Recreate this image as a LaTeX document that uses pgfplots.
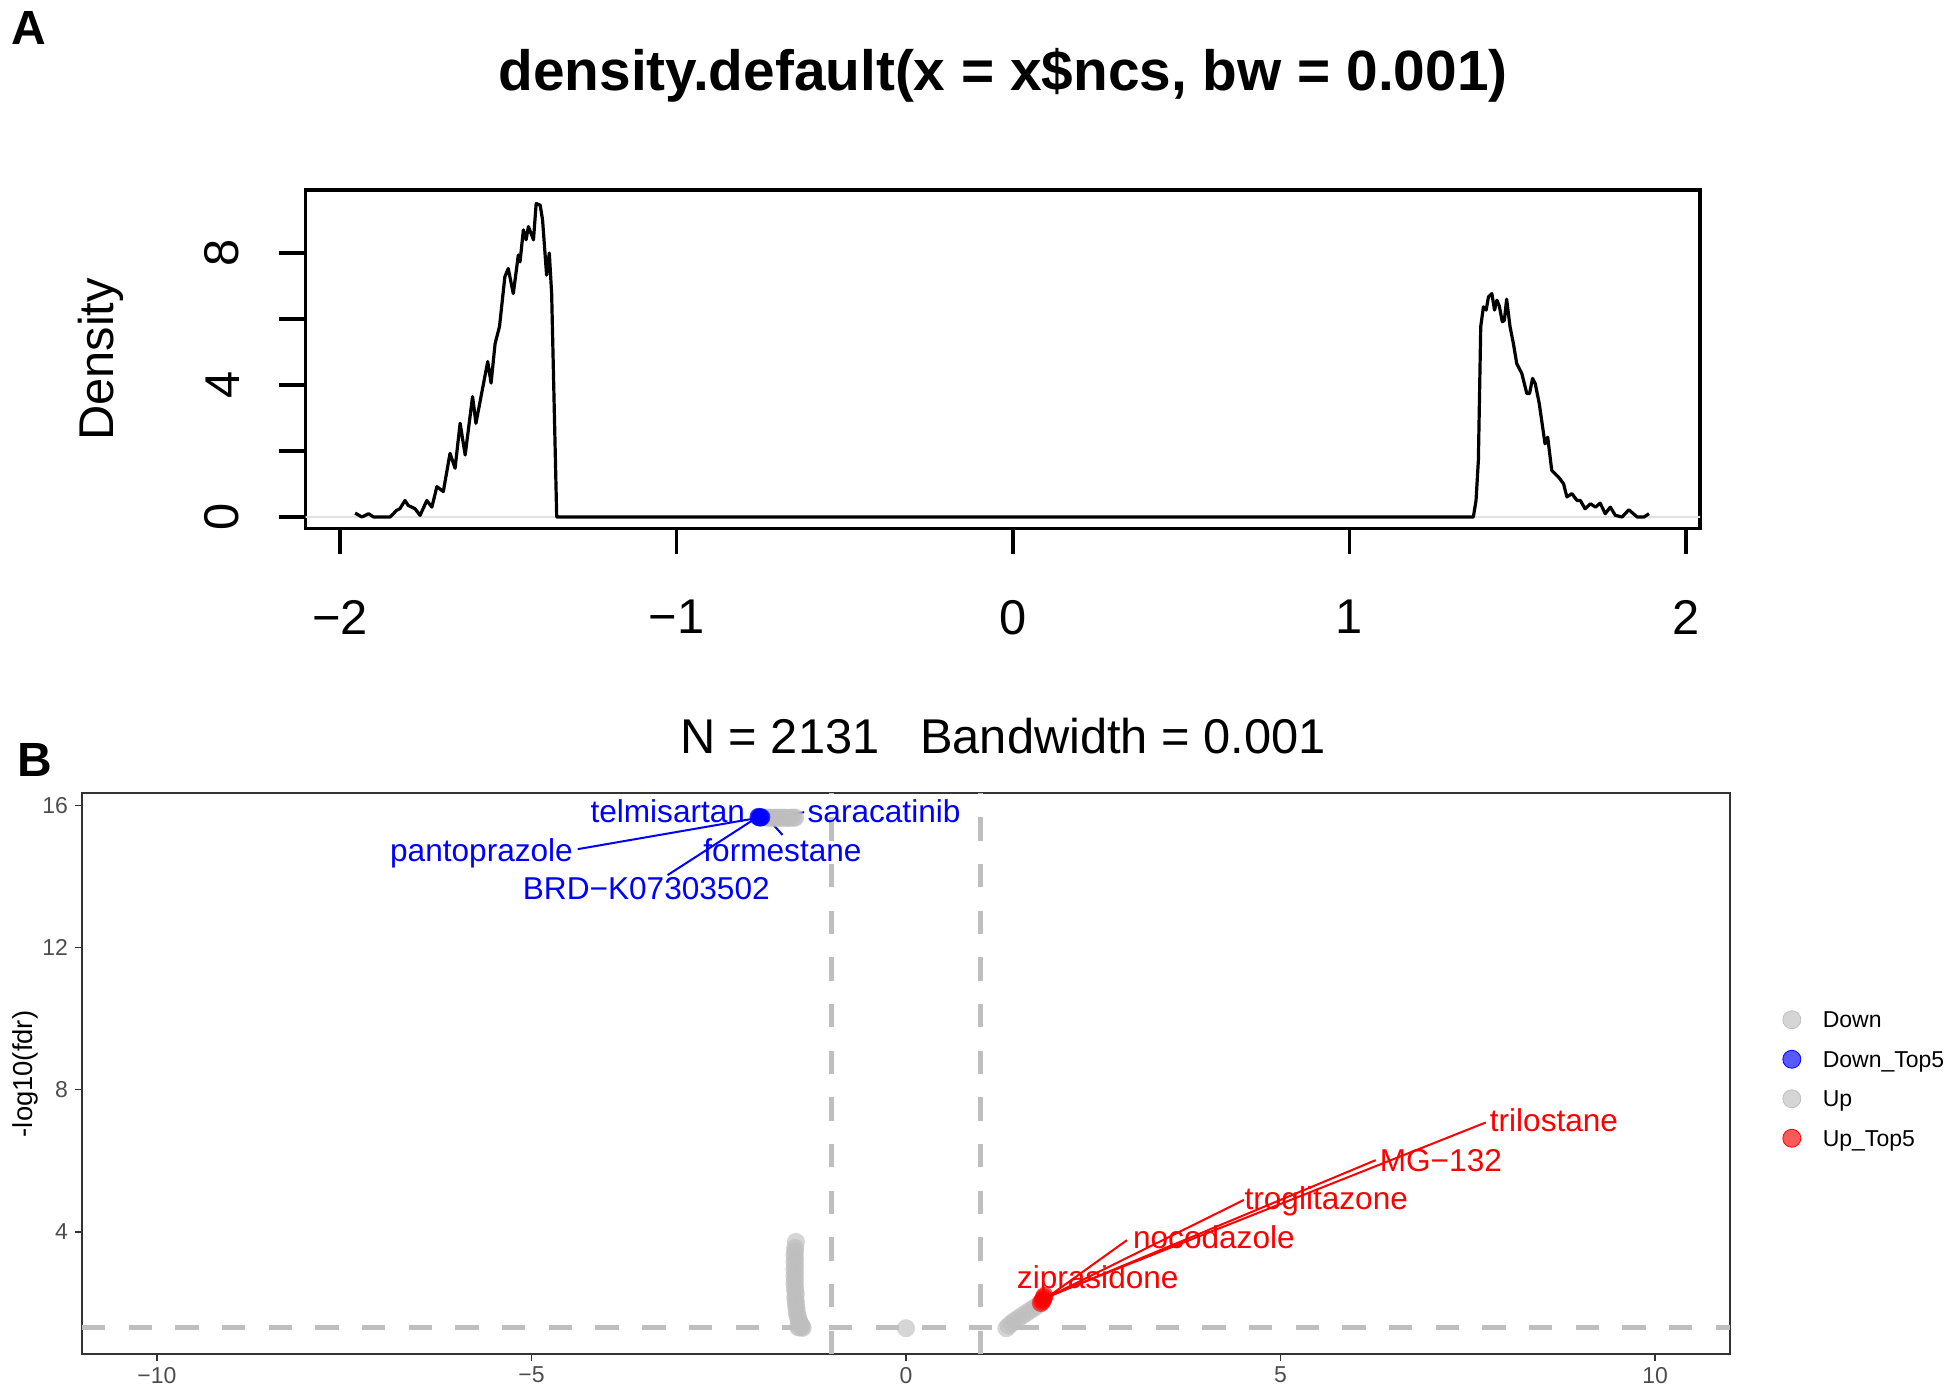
\documentclass[border=0pt]{standalone}
\usepackage{fontspec}
\setmainfont{Liberation Sans}
\usepackage{pgfplots}
\pgfplotsset{compat=1.18}
\definecolor{ggray}{RGB}{190,190,190}
\definecolor{gray20}{RGB}{51,51,51}
\definecolor{gray30}{RGB}{77,77,77}
\definecolor{zline}{RGB}{225,225,225}
\definecolor{rblue}{RGB}{0,0,255}
\definecolor{rred}{RGB}{255,0,0}

\pgfplotsset{
  dot/.style={only marks, mark=*, mark size=4.5pt, forget plot, draw=none,
    mark options={line width=0pt, draw opacity=0, fill=#1, fill opacity=0.65}},
  seg/.style={#1, line width=1pt, forget plot},
}

\begin{document}
\begin{tikzpicture}
\path (0pt,0pt) rectangle (977.5pt,-697.5pt);

% ---- panel A: density
\begin{axis}[
  scale only axis, width=697.25pt, height=169.25pt,
  at={(152.75pt,-264.25pt)}, anchor=south west,
  xmin=-2.1025, xmax=2.0416, ymin=-0.348, ymax=9.909,
  axis line style={line width=1.6pt},
  tick align=outside, xtick pos=left, ytick pos=left,
  major tick length=13pt, tick style={black, line width=1.6pt},
  xtick={-2,-1,0,1,2}, xticklabels={−2,−1,0,1,2},
  ytick={0,2,4,6,8}, yticklabels={0,,4,,8},
  ticklabel style={font=\fontsize{24.4}{28}\selectfont, inner sep=0pt},
  xticklabel style={anchor=north},
  yticklabel style={rotate=90, anchor=south},
  xticklabel shift=22.75pt, yticklabel shift=20pt,
]
\addplot[zline, line width=0.6pt, forget plot] coordinates {(-2.2,0) (2.1,0)};
\addplot[black, line width=1.6pt, line join=round, forget plot] coordinates {
(-1.955,0.12) (-1.935,0.0) (-1.915,0.1) (-1.90,0) (-1.851,0) (-1.832,0.2)
(-1.822,0.25) (-1.807,0.5) (-1.797,0.35) (-1.777,0.25) (-1.762,0.05)
(-1.742,0.5) (-1.727,0.3) (-1.712,0.92) (-1.693,0.77) (-1.673,1.93)
(-1.658,1.48) (-1.643,2.84) (-1.628,1.88) (-1.606,3.65) (-1.596,2.84)
(-1.579,3.75) (-1.561,4.71) (-1.551,4.06) (-1.539,5.26) (-1.526,5.77)
(-1.510,7.28) (-1.500,7.53) (-1.485,6.77) (-1.470,7.94) (-1.465,7.73)
(-1.455,8.7) (-1.447,8.4) (-1.440,8.8) (-1.425,8.4) (-1.417,9.5)
(-1.405,9.45) (-1.398,9.0) (-1.386,7.33) (-1.378,8.0) (-1.371,6.77)
(-1.356,0)
(1.368,0) (1.376,0.5) (1.383,1.72) (1.390,5.77) (1.398,6.37) (1.406,6.27)
(1.413,6.67) (1.423,6.77) (1.431,6.27) (1.438,6.57) (1.445,6.4) (1.454,5.92)
(1.460,5.95) (1.467,6.6) (1.477,5.77) (1.487,5.26) (1.497,4.65) (1.512,4.35)
(1.527,3.74) (1.535,3.74) (1.544,4.2) (1.552,4.04) (1.564,3.43) (1.581,2.22)
(1.589,2.42) (1.601,1.41) (1.621,1.21) (1.636,1.01) (1.646,0.61) (1.661,0.71)
(1.676,0.5) (1.686,0.5) (1.70,0.25) (1.716,0.4) (1.731,0.3) (1.745,0.42)
(1.760,0.1) (1.775,0.3) (1.790,0.05) (1.81,0) (1.83,0.22) (1.855,0)
(1.875,0) (1.890,0.1)
};
\end{axis}

% ---- panel B: volcano
\begin{axis}[
  scale only axis, width=824pt, height=280.5pt,
  at={(41pt,-677pt)}, anchor=south west,
  xmin=-11, xmax=11, ymin=0.565, ymax=16.35,
  axis line style={draw=gray20, line width=0.7pt},
  tick align=outside, xtick pos=left, ytick pos=left,
  major tick length=3.5pt, tick style={gray20, line width=0.7pt},
  xtick={-10,-5,0,5,10}, xticklabels={−10,−5,0,5,10},
  ytick={4,8,12,16}, yticklabels={4,8,12,16},
  ticklabel style={font=\fontsize{11.5}{13}\selectfont, text=gray30, inner sep=0pt},
  xticklabel shift=2.85pt, yticklabel shift=3.35pt,
  legend style={at={(1,0.5)}, anchor=west, xshift=26pt, yshift=-2.75pt,
    draw=none, fill=none, inner sep=0pt, row sep=10.35pt,
    font=\fontsize{11.5}{13}\selectfont,
    nodes={inner sep=0pt, text height=8pt, text depth=0pt},
    /tikz/every odd column/.style={column sep=10.8pt}},
  legend cell align=left,
]
% threshold lines
\addplot[ggray, line width=2.5pt, dash pattern=on 11.67pt off 11.67pt, forget plot]
  coordinates {(-11,1.301) (11,1.301)};
\addplot[ggray, line width=2.5pt, dash pattern=on 11.67pt off 11.67pt, forget plot]
  coordinates {(-1,0.565) (-1,16.35)};
\addplot[ggray, line width=2.5pt, dash pattern=on 11.67pt off 11.67pt, forget plot]
  coordinates {(1,0.565) (1,16.35)};

% Down
\addplot[dot=ggray] coordinates {
(-1.86,15.66) (-1.83,15.65) (-1.80,15.66) (-1.77,15.65) (-1.74,15.66)
(-1.71,15.65) (-1.68,15.66) (-1.65,15.65) (-1.62,15.66) (-1.59,15.65)
(-1.56,15.65) (-1.53,15.66) (-1.50,15.65) (-1.48,15.66)
(-1.47,3.72) (-1.48,3.55) (-1.48,3.45) (-1.49,3.35) (-1.48,3.25)
(-1.49,3.15) (-1.48,3.05) (-1.49,2.95) (-1.48,2.85) (-1.49,2.75)
(-1.48,2.65) (-1.49,2.55) (-1.48,2.45) (-1.48,2.35) (-1.47,2.25)
(-1.48,2.15) (-1.47,2.05) (-1.47,1.95) (-1.46,1.85) (-1.46,1.75)
(-1.45,1.65) (-1.44,1.58) (-1.43,1.50) (-1.42,1.45) (-1.41,1.40)
(-1.40,1.36) (-1.39,1.33) (-1.38,1.30) (-1.44,1.32) (-1.42,1.31)
};
% Down_Top5
\addplot[dot=rblue] coordinates {
(-1.97,15.68) (-1.96,15.67) (-1.95,15.66) (-1.94,15.66) (-1.93,15.67)
};
% Up
\addplot[dot=ggray] coordinates {
(0,1.29)
(1.34,1.29) (1.37,1.36) (1.41,1.43) (1.45,1.50) (1.50,1.57) (1.55,1.64)
(1.60,1.71) (1.65,1.78) (1.70,1.85) (1.75,1.92) (1.79,1.98)
};
% Up_Top5
\addplot[dot=rred] coordinates {
(1.80,2.00) (1.82,2.05) (1.83,2.10) (1.84,2.15) (1.85,2.20)
};

% label segments
\addplot[seg=rblue] coordinates {(-1.36,15.81) (-1.83,15.64)};
\addplot[seg=rblue] coordinates {(-1.649,15.17) (-1.836,15.61)};
\addplot[seg=rblue] coordinates {(-4.383,14.77) (-2.004,15.64)};
\addplot[seg=rblue] coordinates {(-3.183,14.04) (-1.983,15.67)};
\addplot[seg=rred] coordinates {(7.74,7.08) (1.85,2.15)};
\addplot[seg=rred] coordinates {(6.27,6.02) (1.84,2.12)};
\addplot[seg=rred] coordinates {(4.51,4.90) (1.83,2.10)};
\addplot[seg=rred] coordinates {(2.95,3.77) (1.82,2.06)};

\begin{scope}[every node/.style={anchor=base, inner sep=0pt, font=\fontsize{15.8}{18}\selectfont}]
\node[text=rblue] at (axis cs:-3.18,15.51) {telmisartan};
\node[text=rblue] at (axis cs:-0.293,15.51) {saracatinib};
\node[text=rblue] at (axis cs:-1.649,14.42) {formestane};
\node[text=rblue] at (axis cs:-5.667,14.42) {pantoprazole};
\node[text=rblue] at (axis cs:-3.467,13.34) {BRD−K07303502};
\node[text=rred] at (axis cs:8.65,6.82) {trilostane};
\node[text=rred] at (axis cs:7.14,5.69) {MG−132};
\node[text=rred] at (axis cs:5.61,4.62) {troglitazone};
\node[text=rred] at (axis cs:4.11,3.54) {nocodazole};
\node[text=rred] at (axis cs:2.56,2.41) {ziprasidone};
\end{scope}

\addlegendimage{legend image code/.code={\fill[ggray, fill opacity=0.65] (0pt,0pt) circle (4.5pt);}}
\addlegendentry{Down}
\addlegendimage{legend image code/.code={\fill[rblue, fill opacity=0.65] (0pt,0pt) circle (4.5pt);}}
\addlegendentry{Down\_Top5}
\addlegendimage{legend image code/.code={\fill[ggray, fill opacity=0.65] (0pt,0pt) circle (4.5pt);}}
\addlegendentry{Up}
\addlegendimage{legend image code/.code={\fill[rred, fill opacity=0.65] (0pt,0pt) circle (4.5pt);}}
\addlegendentry{Up\_Top5}
\end{axis}

% ---- texts
\node[anchor=north west, inner sep=0pt, font=\fontsize{24}{28}\selectfont\bfseries] at (5.75pt,-5.5pt) {A};
\node[anchor=north west, inner sep=0pt, font=\fontsize{24}{28}\selectfont\bfseries] at (8.6pt,-371.4pt) {B};
\node[inner sep=0pt, font=\fontsize{28.4}{32}\selectfont\bfseries] at (501.5pt,-37.9pt) {density.default(x = x\$ncs, bw = 0.001)};
\node[inner sep=0pt, font=\fontsize{24.4}{28}\selectfont] at (501.5pt,-368pt) {N = 2131\ \ \ Bandwidth = 0.001};
\node[inner sep=0pt, rotate=90, font=\fontsize{24.4}{28}\selectfont] at (50.5pt,-179.75pt) {Density};
\node[inner sep=0pt, rotate=90, font=\fontsize{13.7}{16}\selectfont] at (12.5pt,-537pt) {-log10(fdr)};
\end{tikzpicture}
\end{document}
